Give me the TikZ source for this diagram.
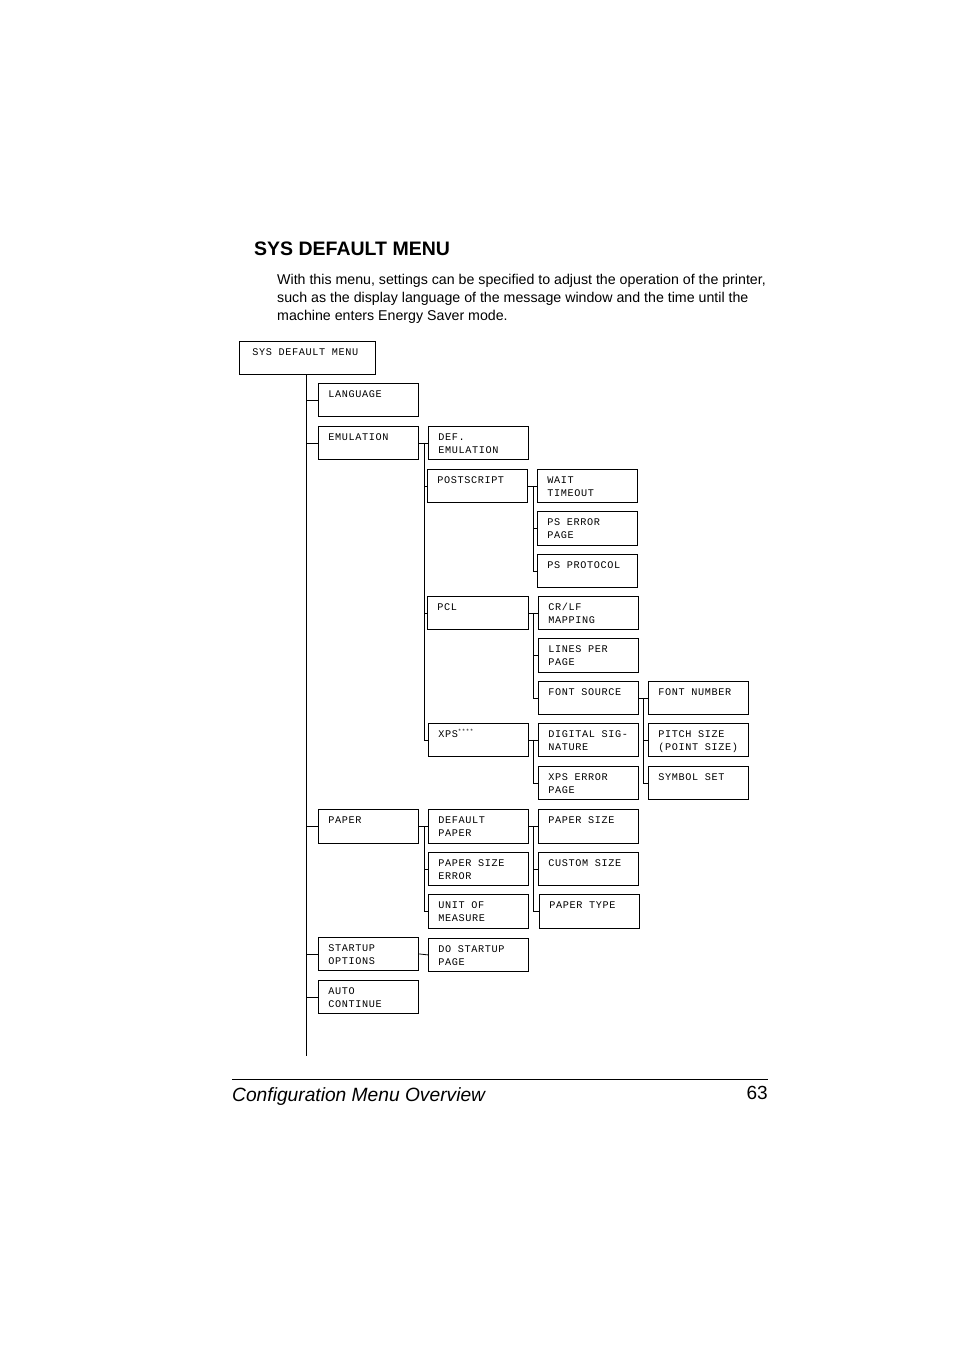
\documentclass[tikz,border=0pt]{standalone}
\usepackage{fontspec}
\setmainfont{Liberation Sans}
\newfontfamily\monobox[LetterSpace=6]{Liberation Mono}
\newcommand\mbx[6]{\node[mb] (#1) at (#2,#3) {\parbox[c][#5pt][t]{#4pt}{\monobox\fontsize{10.2}{13}\selectfont\raggedright\leftskip=10pt\rule{0pt}{14pt}#6}};}
\begin{document}
\begin{tikzpicture}[x=1pt,y=-1pt,
  mb/.style={draw,line width=0.8pt,inner sep=0pt,anchor=north west},
  ln/.style={line width=0.8pt}]
\useasboundingbox (0,0) rectangle (954,1351);
% header text
\node[anchor=base west,inner sep=0,font=\bfseries\fontsize{19.5}{23}\selectfont] (title) at (254,255) {SYS DEFAULT MENU};
\node[anchor=base west,inner sep=0,font=\fontsize{14.2}{18}\selectfont] (b1) at (277,284) {With this menu, settings can be specified to adjust the operation of the printer,};
\node[anchor=base west,inner sep=0,font=\fontsize{14.2}{18}\selectfont] (b2) at (277,302) {such as the display language of the message window and the time until the};
\node[anchor=base west,inner sep=0,font=\fontsize{14.2}{18}\selectfont] (b3) at (277,320) {machine enters Energy Saver mode.};
% boxes
\mbx{sys}{239}{341}{136}{33}{\hspace{3pt}SYS DEFAULT MENU}
\mbx{lang}{318}{383}{100}{33}{LANGUAGE}
\mbx{emu}{318}{426}{100}{33}{EMULATION}
\mbx{def}{428}{426}{100}{33}{DEF.\\EMULATION}
\mbx{ps}{427}{469}{100}{33}{POSTSCRIPT}
\mbx{wait}{537}{469}{100}{33}{WAIT\\TIMEOUT}
\mbx{pserr}{537}{511}{100}{34}{PS ERROR\\PAGE}
\mbx{psprot}{537}{554}{100}{33}{PS PROTOCOL}
\mbx{pcl}{427}{596}{101}{33}{PCL}
\mbx{crlf}{538}{596}{100}{33}{CR/LF\\MAPPING}
\mbx{lpp}{538}{638}{100}{34}{LINES PER\\PAGE}
\mbx{fsrc}{538}{681}{100}{33}{FONT SOURCE}
\mbx{fnum}{648}{681}{100}{33}{FONT NUMBER}
\mbx{xps}{428}{723}{100}{33}{XPS\textsuperscript{\fontsize{6}{6}\selectfont ****}}
\mbx{dsig}{538}{723}{100}{33}{DIGITAL SIG-\\NATURE}
\mbx{pitch}{648}{723}{100}{33}{PITCH SIZE\\(POINT SIZE)}
\mbx{xpserr}{538}{766}{100}{33}{XPS ERROR\\PAGE}
\mbx{symset}{648}{766}{100}{33}{SYMBOL SET}
\mbx{paper}{318}{809}{100}{34}{PAPER}
\mbx{defp}{428}{809}{100}{34}{DEFAULT\\PAPER}
\mbx{psize}{538}{809}{100}{34}{PAPER SIZE}
\mbx{pserr2}{428}{852}{100}{33}{PAPER SIZE\\ERROR}
\mbx{csize}{538}{852}{100}{33}{CUSTOM SIZE}
\mbx{unit}{428}{894}{100}{34}{UNIT OF\\MEASURE}
\mbx{ptype}{539}{894}{100}{34}{PAPER TYPE}
\mbx{startup}{318}{937}{100}{33}{STARTUP\\OPTIONS}
\mbx{dostart}{428}{938}{100}{33}{DO STARTUP\\PAGE}
\mbx{auto}{318}{980}{100}{33}{AUTO\\CONTINUE}
% connector columns
\coordinate (tk1) at (306,374);
\coordinate (tk2) at (306,1056);
\coordinate (ev) at (424,0);
\coordinate (pv) at (533,0);
\coordinate (fv) at (643,0);
% trunk
\draw[ln] (tk1) -- (tk2);
\foreach \n in {lang,emu,paper,startup,auto} {\draw[ln] (\n.west) -- (\n.west -| tk1);}
% emulation
\draw[ln] (emu.east) -- (def.west);
\draw[ln] (emu.east -| ev) -- (xps.west -| ev);
\foreach \n in {ps,pcl,xps} {\draw[ln] (\n.west) -- (\n.west -| ev);}
% postscript
\draw[ln] (ps.east) -- (wait.west);
\draw[ln] (ps.east -| pv) -- (psprot.west -| pv);
\foreach \n in {pserr,psprot} {\draw[ln] (\n.west) -- (\n.west -| pv);}
% pcl
\draw[ln] (pcl.east) -- (crlf.west);
\draw[ln] (pcl.east -| pv) -- (fsrc.west -| pv);
\foreach \n in {lpp,fsrc} {\draw[ln] (\n.west) -- (\n.west -| pv);}
% font source
\draw[ln] (fsrc.east) -- (fnum.west);
\draw[ln] (fsrc.east -| fv) -- (symset.west -| fv);
\foreach \n in {pitch,symset} {\draw[ln] (\n.west) -- (\n.west -| fv);}
% xps
\draw[ln] (xps.east) -- (dsig.west);
\draw[ln] (xps.east -| pv) -- (xpserr.west -| pv);
\draw[ln] (xpserr.west) -- (xpserr.west -| pv);
% paper
\draw[ln] (paper.east) -- (defp.west);
\draw[ln] (paper.east -| ev) -- (unit.west -| ev);
\foreach \n in {pserr2,unit} {\draw[ln] (\n.west) -- (\n.west -| ev);}
% default paper
\draw[ln] (defp.east) -- (psize.west);
\draw[ln] (defp.east -| pv) -- (ptype.west -| pv);
\foreach \n in {csize,ptype} {\draw[ln] (\n.west) -- (\n.west -| pv);}
% startup
\draw[ln] (startup.east) -- (dostart.west);
% footer
\draw[line width=0.8pt] (232,1079) -- (768,1079);
\node[anchor=base west,inner sep=0,font=\itshape\fontsize{19.2}{22}\selectfont] (foot) at (232,1101) {Configuration Menu Overview};
\node[anchor=base east,inner sep=0,font=\fontsize{19}{22}\selectfont] (pg) at (768,1099) {63};
\end{tikzpicture}
\end{document}
